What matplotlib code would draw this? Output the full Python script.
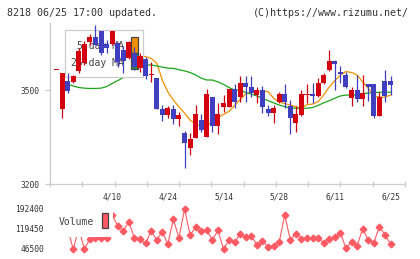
import matplotlib
matplotlib.use("Agg")
import matplotlib.pyplot as plt
import numpy as np
from matplotlib.patches import Rectangle

plt.rcParams['font.family'] = ['DejaVu Sans Mono']

# ---------------- data ----------------
title_left = "8218 06/25 17:00 updated."
title_right = "(C)https://www.rizumu.net/"
date_labels = ["4/10", "4/24", "5/14", "5/28", "6/11", "6/25"]
date_label_idx = [10, 20, 30, 40, 50, 60]
price_ticks = [3200, 3500]
volume_ticks = [46500, 119450, 192400]
ma_names = ["5-day MA", "25-day MA"]

opens = [3567, 3439, 3529, 3527, 3562, 3587, 3654, 3670, 3688, 3646,
         3646, 3649, 3628, 3601, 3617, 3569, 3599, 3548, 3539, 3439,
         3420, 3439, 3406, 3362, 3316, 3348, 3404, 3351, 3479, 3385,
         3447, 3447, 3503, 3477, 3523, 3509, 3484, 3500, 3439, 3428,
         3463, 3487, 3450, 3396, 3420, 3487, 3487, 3481, 3521, 3564,
         3593, 3558, 3548, 3476, 3500, 3471, 3519, 3519, 3417, 3529,
         3529]
highs = [3567, 3555, 3553, 3548, 3633, 3657, 3679, 3707, 3690, 3660,
         3690, 3652, 3640, 3655, 3638, 3617, 3605, 3590, 3539, 3452,
         3450, 3452, 3431, 3370, 3362, 3452, 3423, 3503, 3479, 3458,
         3484, 3503, 3519, 3545, 3545, 3545, 3511, 3513, 3452, 3452,
         3495, 3519, 3468, 3450, 3500, 3519, 3523, 3539, 3555, 3628,
         3596, 3577, 3556, 3511, 3548, 3548, 3519, 3519, 3495, 3564,
         3545]
lows = [3567, 3410, 3489, 3524, 3555, 3580, 3644, 3644, 3612, 3617,
        3644, 3575, 3553, 3598, 3564, 3557, 3536, 3526, 3439, 3402,
        3410, 3391, 3385, 3252, 3293, 3348, 3367, 3351, 3367, 3360,
        3431, 3447, 3442, 3463, 3463, 3477, 3458, 3428, 3417, 3396,
        3460, 3442, 3360, 3367, 3417, 3458, 3458, 3478, 3518, 3560,
        3500, 3521, 3506, 3449, 3463, 3449, 3466, 3412, 3417, 3463,
        3484]
closes = [3567, 3555, 3498, 3545, 3624, 3647, 3670, 3644, 3617, 3633,
          3688, 3590, 3592, 3652, 3573, 3609, 3545, 3548, 3439, 3420,
          3442, 3406, 3420, 3332, 3344, 3423, 3372, 3487, 3385, 3423,
          3459, 3503, 3463, 3523, 3510, 3491, 3500, 3447, 3428, 3442,
          3487, 3463, 3412, 3423, 3487, 3487, 3482, 3523, 3548, 3593,
          3582, 3551, 3511, 3500, 3470, 3490, 3511, 3417, 3479, 3482,
          3516]

nan = np.nan
ma5 = [nan, 3546, 3543, 3545, 3558, 3574, 3597, 3626, 3641, 3643,
       3650, 3636, 3627, 3630, 3618, 3608, 3607, 3601, 3586, 3532,
       3494, 3468, 3446, 3426, 3404, 3391, 3384, 3385, 3401, 3412,
       3422, 3432, 3451, 3470, 3487, 3495, 3495, 3495, 3495, 3474,
       3462, 3457, 3452, 3447, 3441, 3454, 3455, 3463, 3484, 3510,
       3530, 3548, 3559, 3556, 3548, 3526, 3506, 3482, 3477, 3477,
       3484]
ma25 = [nan, nan, 3518, 3513, 3508, 3506, 3505, 3505, 3506, 3511,
        3521, 3530, 3540, 3554, 3567, 3577, 3580, 3580, 3577, 3573,
        3570, 3569, 3565, 3561, 3556, 3548, 3538, 3532, 3532, 3526,
        3518, 3508, 3500, 3500, 3492, 3487, 3481, 3474, 3466, 3459,
        3452, 3447, 3443, 3442, 3441, 3442, 3444, 3451, 3459, 3466,
        3474, 3481, 3484, 3484, 3484, 3489, 3490, 3492, 3493, 3493,
        3493]
volume = [125000, 140000, 120000, 46500, 120000, 47000, 81800, 87800, 87800, 85400,
          170000, 131600, 112200, 146200, 85400, 81800, 67200, 112200, 79300, 109700,
          64700, 155900, 85400, 192400, 97600, 125500, 112200, 114600, 79300, 114600,
          46500, 79300, 70800, 101200, 89100, 93900, 61100, 75700, 53800, 58700,
          70800, 170500, 79300, 102400, 83000, 85400, 87800, 85400, 69600, 83000,
          89100, 106100, 48900, 73200, 57400, 120700, 79300, 69600, 128000, 97600,
          64700]

# ---------------- styles ----------------
RED = '#d40010'
BLUE = '#3f3fbf'
ORANGE = '#f39000'
GREEN = '#1aa51a'
VOLC = '#ff5a64'
GRID = '#cccccc'
TXT = '#333333'

W, H = 420, 259
fig = plt.figure(figsize=(W / 100, H / 100), dpi=100)
fig.patch.set_facecolor('white')


def fx(px):
    return px / W


def fy(py):
    return 1 - py / H


ax = fig.add_axes([fx(50), fy(184), fx(405) - fx(50), fy(23) - fy(184)])
axv = fig.add_axes([fx(50), fy(256), fx(405) - fx(50), fy(202) - fy(256)])

n = len(closes)
idx = np.arange(n)
o = np.array(opens, float)
c = np.array(closes, float)
h = np.array(highs, float)
l = np.array(lows, float)
up = c >= o
colors = np.where(up, RED, BLUE)
body_h = np.maximum(np.abs(c - o), 3.2)
body_b = np.where(np.abs(c - o) < 3.2, o - 1.6, np.minimum(o, c))

# MA lines
ax.plot(idx, ma5, color=ORANGE, lw=0.9, zorder=1)
ax.plot(idx, ma25, color=GREEN, lw=0.9, zorder=1)

# candles
ax.vlines(idx, l, h, colors=colors, linewidth=0.9, zorder=2.5)
ax.bar(idx, body_h, bottom=body_b, width=0.9, color=colors, linewidth=0, zorder=3)

x0 = -(56.5 - 50) / 5.567
x1 = (n - 1) + (405 - 390.5) / 5.567
ax.set_xlim(x0, x1)
ax.set_ylim(3200, 3714)


def axp(px, py, a_top=23, a_bot=184):
    return ((px - 50) / 355, (a_bot - py) / (a_bot - a_top))


# legend in main chart (under candles, above MA lines)
lx, ly = axp(65, 77)
rx, ry = axp(143, 30)
ax.add_patch(Rectangle((lx, ly), rx - lx, ry - ly, transform=ax.transAxes,
                       facecolor='white', edgecolor=GRID, lw=0.9, zorder=1.5))
for name, yy, col, (pt, pb) in zip(ma_names, [46, 62.7], [ORANGE, GREEN],
                                   [(37.3, 52.7), (53.3, 69.3)]):
    tx, ty = axp(124, yy)
    ax.text(tx, ty, name, transform=ax.transAxes, ha='right', va='center',
            fontsize=7, color='#444444', zorder=1.6)
    px0, py0 = axp(131, pb)
    px1, py1 = axp(137.7, pt)
    ax.add_patch(Rectangle((px0, py0), px1 - px0, py1 - py0, transform=ax.transAxes,
                           facecolor=col, edgecolor='#444444', lw=0.9, zorder=1.6))

for s in ['top', 'right']:
    ax.spines[s].set_visible(False)
for s in ['left', 'bottom']:
    ax.spines[s].set_color(GRID)
    ax.spines[s].set_linewidth(0.9)

ax.set_yticks(price_ticks)
ax.set_yticklabels([str(v) for v in price_ticks])
ax.tick_params(axis='y', length=3.6, width=0.9, color=GRID, labelsize=5.7,
               labelcolor=TXT, pad=4.3)
ax.set_xticks(np.linspace(x0, x1, 12))
ax.set_xticklabels([])
ax.set_xticks(date_label_idx, minor=True)
ax.set_xticklabels(date_labels, minor=True)
ax.tick_params(axis='x', which='major', direction='inout', length=4.7, width=0.9,
               color=GRID)
ax.tick_params(axis='x', which='minor', length=0, labelsize=5.7, labelcolor=TXT,
               pad=6.0)

# volume chart
axv.plot(idx, volume, color=VOLC, lw=0.8, marker='D', markersize=3.4, zorder=2,
         clip_on=True)
axv.set_xlim(x0, x1)
v_lo = 46500 - (256 - 249) * 3647.5
v_hi = 46500 + (249 - 202) * 3647.5
axv.set_ylim(v_lo, v_hi)
for s in axv.spines.values():
    s.set_visible(False)
axv.set_xticks([])
axv.set_yticks(volume_ticks)
axv.set_yticklabels([str(v) for v in volume_ticks])
axv.tick_params(axis='y', length=0, labelsize=5.7, labelcolor=TXT, pad=4.3)


def axvp(px, py):
    return ((px - 50) / 355, (256 - py) / 54)


vx0, vy0 = axvp(46, 237)
vx1, vy1 = axvp(113, 206)
axv.add_patch(Rectangle((vx0, vy0), vx1 - vx0, vy1 - vy0, transform=axv.transAxes,
                        facecolor='white', edgecolor='none', zorder=3, clip_on=False))
tx, ty = axvp(59, 222.3)
axv.text(tx, ty, "Volume", transform=axv.transAxes, ha='left', va='center',
         fontsize=7, color='#444444', zorder=4)
px0, py0 = axvp(101.7, 228.3)
px1, py1 = axvp(108.3, 212.7)
axv.add_patch(Rectangle((px0, py0), px1 - px0, py1 - py0, transform=axv.transAxes,
                        facecolor=VOLC, edgecolor='#444444', lw=0.9, zorder=4))

fig.text(fx(7), fy(13), title_left, ha='left', va='center', fontsize=7.2, color=TXT)
fig.text(fx(409), fy(13), title_right, ha='right', va='center', fontsize=7.2, color=TXT)

fig.savefig("out.png", dpi=100)
